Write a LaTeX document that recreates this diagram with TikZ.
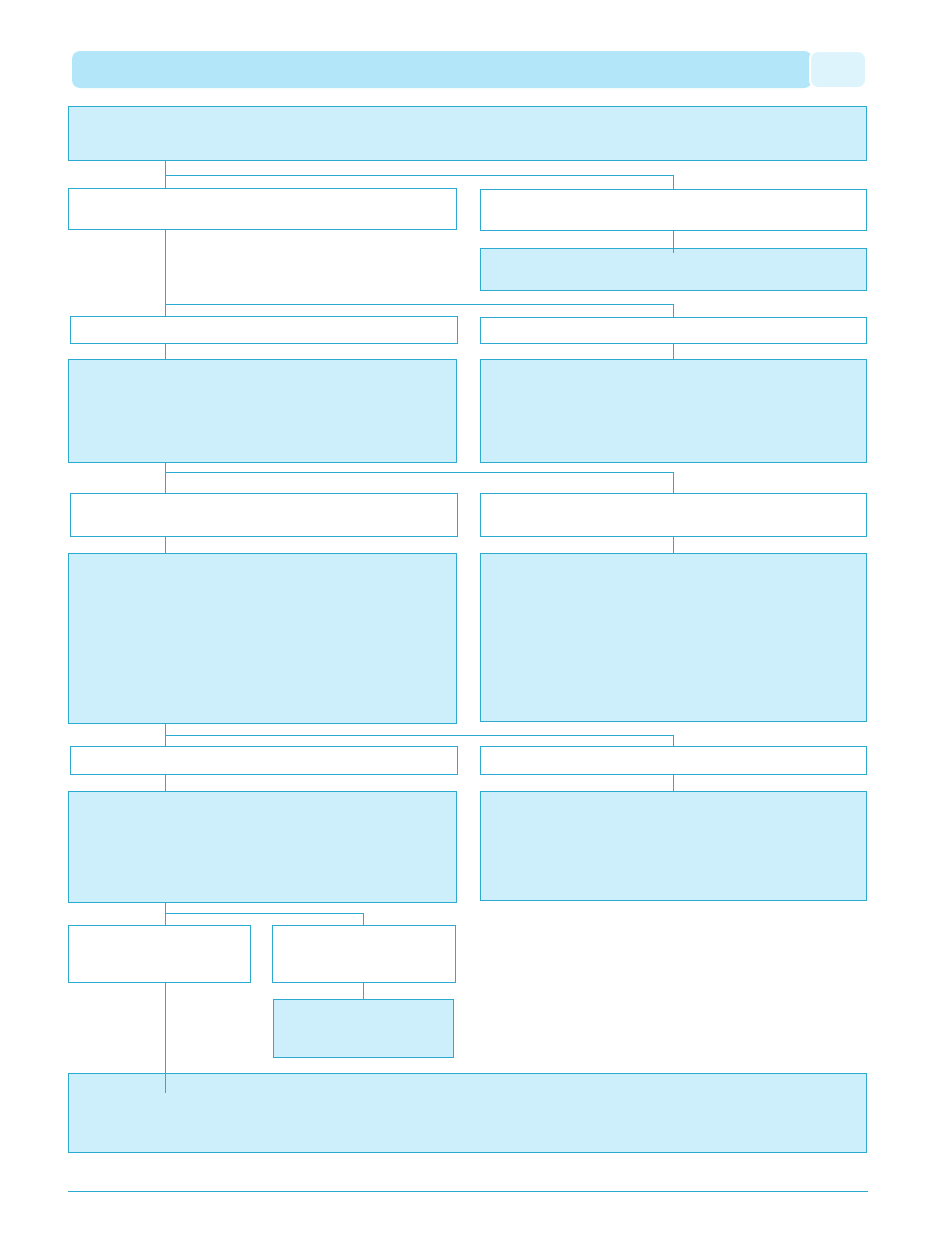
\documentclass[tikz,border=0pt]{standalone}
\usepackage{tikz}
\usetikzlibrary{calc}

\definecolor{rim}{RGB}{45,170,208}
\definecolor{pale}{RGB}{204,239,251}
\definecolor{bar}{RGB}{179,230,249}
\definecolor{barend}{RGB}{222,244,252}

\tikzset{
	wh/.style 2 args={minimum width=#1*0.5pt,minimum height=#2*0.5pt},
	plainbox/.style={draw=rim,fill=white,line width=0.5pt,inner sep=0pt},
	shadebox/.style={draw=rim,fill=pale,line width=0.5pt,inner sep=0pt},
	link/.style={draw=rim,line width=0.5pt}
}

\begin{document}
\begin{tikzpicture}[x=0.5pt,y=-0.5pt]
	\useasboundingbox (0,0) rectangle (935,1254);
	% title bar
	\node[fill=bar,rounded corners=4pt,inner sep=0pt,wh={740}{37}] (bar) at (442,69.5) {};
	\node[fill=barend,draw=white,line width=1pt,rounded corners=4pt,inner sep=0pt,wh={56}{37}] (barend) at (838,69.5) {};
	% boxes
	\node[shadebox,wh={798}{54}] (A) at (467,133) {};
	\node[plainbox,wh={388}{41}] (B1) at (262,208.5) {};
	\node[plainbox,wh={386}{41}] (B2) at (673,209.5) {};
	\node[shadebox,wh={386}{42}] (C) at (673,269) {};
	\node[plainbox,wh={387}{27}] (D1) at (263.5,329.5) {};
	\node[plainbox,wh={386}{26}] (D2) at (673,330) {};
	\node[shadebox,wh={388}{103}] (E1) at (262,410.5) {};
	\node[shadebox,wh={386}{103}] (E2) at (673,410.5) {};
	\node[plainbox,wh={387}{43}] (F1) at (263.5,514.5) {};
	\node[plainbox,wh={386}{43}] (F2) at (673,514.5) {};
	\node[shadebox,wh={388}{170}] (G1) at (262,638) {};
	\node[shadebox,wh={386}{168}] (G2) at (673,637) {};
	\node[plainbox,wh={387}{28}] (H1) at (263.5,760) {};
	\node[plainbox,wh={386}{28}] (H2) at (673,760) {};
	\node[shadebox,wh={388}{111}] (I1) at (262,846.5) {};
	\node[shadebox,wh={386}{109}] (I2) at (673,845.5) {};
	\node[plainbox,wh={182}{57}] (J1) at (159,953.5) {};
	\node[plainbox,wh={183}{57}] (J2) at (363.5,953.5) {};
	\node[shadebox,wh={180}{58}] (K) at (363,1028) {};
	\node[shadebox,wh={798}{79}] (L) at (467,1112.5) {};
	% trunk and split points
	\coordinate (lx) at (165,0);
	\coordinate (s1) at (165,175);
	\coordinate (s2) at (165,304);
	\coordinate (s3) at (165,472);
	\coordinate (s4) at (165,735);
	\coordinate (s5) at (165,913);
	\coordinate (r1) at (68,1191);
	\coordinate (r2) at (868,1191);
	% connectors
	\draw[link] (A.south -| lx)--(B1.north -| lx) (s1)-|(B2.north);
	\draw[link] (B2.south)--([yshift=-2.5pt]C.north);
	\draw[link] (B1.south -| lx)--(D1.north -| lx) (s2)-|(D2.north);
	\draw[link] (D1.south -| lx)--(E1.north -| lx) (D2.south)--(E2.north);
	\draw[link] (E1.south -| lx)--(F1.north -| lx) (s3)-|(F2.north);
	\draw[link] (F1.south -| lx)--(G1.north -| lx) (F2.south)--(G2.north);
	\draw[link] (G1.south -| lx)--(H1.north -| lx) (s4)-|(H2.north);
	\draw[link] (H1.south -| lx)--(I1.north -| lx) (H2.south)--(I2.north);
	\draw[link] (I1.south -| lx)--(J1.north -| lx) (s5)-|(J2.north);
	\draw[link] (J2.south)--(J2.south |- K.north);
	\draw[link] (J1.south -| lx)--([yshift=-10pt]L.north -| lx);
	% footer rule
	\draw[link] (r1)--(r2);
\end{tikzpicture}
\end{document}
